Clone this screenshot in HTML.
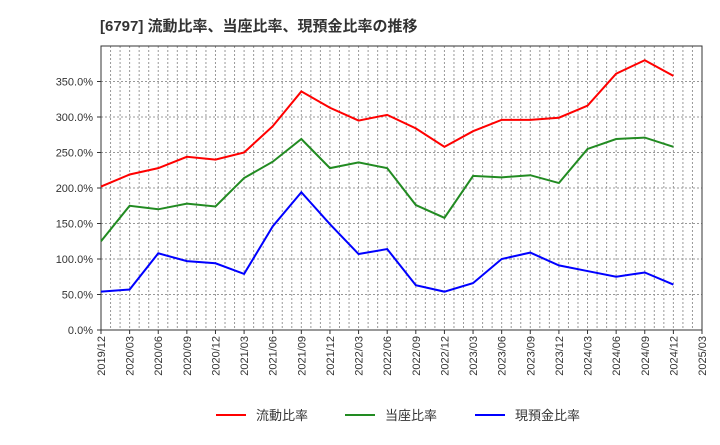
<!DOCTYPE html>
<html><head><meta charset="utf-8"><style>
body{margin:0;background:#fff;font-family:"Liberation Sans","Noto Sans CJK JP",sans-serif;}
</style></head><body>
<svg id="chart" width="720" height="440" xmlns="http://www.w3.org/2000/svg" font-family="Liberation Sans, Noto Sans CJK JP, sans-serif">
<text x="100" y="31" font-size="15" font-weight="bold" fill="#333">[6797]  流動比率、当座比率、現預金比率の推移</text>
<g id="grid"></g><g id="axes"></g><g id="series"></g>
<g>
<line x1="216" y1="415" x2="246" y2="415" stroke="#ff0000" stroke-width="2"/>
<text x="256" y="420" font-size="13" fill="#333">流動比率</text>
<line x1="345" y1="415" x2="375" y2="415" stroke="#228b22" stroke-width="2"/>
<text x="385" y="420" font-size="13" fill="#333">当座比率</text>
<line x1="475" y1="415" x2="505" y2="415" stroke="#0000ff" stroke-width="2"/>
<text x="515" y="420" font-size="13" fill="#333">現預金比率</text>
</g>
</svg>
<script>
const tickLabels=["2019/12","2020/03","2020/06","2020/09","2020/12","2021/03","2021/06","2021/09","2021/12","2022/03","2022/06","2022/09","2022/12","2023/03","2023/06","2023/09","2023/12","2024/03","2024/06","2024/09","2024/12","2025/03"];
const yTicks=[0,50,100,150,200,250,300,350];
const currentRatio=[202,219,228,244,240,250,287,336,313,295,303,284,258,280,296,296,299,316,361,380,358];
const quickRatio=[125,175,170,178,174,214,237,269,228,236,228,176,158,217,215,218,207,255,269,271,258];
const cashRatio=[54,57,108,97,94,79,146,194,149,107,114,63,54,66,100,109,91,83,75,81,64];
const L=101,R=702,T=46,B=330,YMAX=400;
const ns="http://www.w3.org/2000/svg";
const xq=i=>L+(R-L)*i/(tickLabels.length-1);
const y=v=>B-(B-T)*v/YMAX;
function mk(tag,attrs,parent){const e=document.createElementNS(ns,tag);for(const k in attrs)e.setAttribute(k,attrs[k]);parent.appendChild(e);return e;}
const grid=document.getElementById('grid'),axes=document.getElementById('axes'),series=document.getElementById('series');
const months=(tickLabels.length-1)*3;
for(let m=1;m<months;m++){const x=L+(R-L)*m/months;const g=mk('line',{x1:x,x2:x,y1:T,y2:B,stroke:'#999','stroke-width':1,'stroke-dasharray':'2,2'},grid);

}
for(let v=50;v<=YMAX;v+=50){const g=mk('line',{x1:L,x2:R,y1:y(v),y2:y(v),stroke:'#999','stroke-width':1,'stroke-dasharray':'2,2'},grid);

}
const frame=mk('rect',{x:L,y:T,width:R-L,height:B-T,fill:'none',stroke:'#333','stroke-width':1},axes);


yTicks.forEach(v=>{const t=mk('text',{x:L-8,y:y(v)+4,'text-anchor':'end','font-size':11,fill:'#333'},axes);t.textContent=v.toFixed(1)+'%';


mk('line',{x1:L-4,x2:L,y1:y(v),y2:y(v),stroke:'#333'},axes);});
tickLabels.forEach((s,i)=>{const x=xq(i);const t=mk('text',{x:0,y:0,'text-anchor':'end','font-size':11,fill:'#333',transform:`translate(${x+4},${B+6}) rotate(-90)`},axes);t.textContent=s;


mk('line',{x1:x,x2:x,y1:B,y2:B+4,stroke:'#333'},axes);});
[[currentRatio,'#ff0000','current-ratio-line'],[quickRatio,'#228b22','quick-ratio-line'],[cashRatio,'#0000ff','cash-ratio-line']].forEach(([d,c,n])=>{
const p=mk('polyline',{points:d.map((v,i)=>xq(i)+','+y(v)).join(' '),fill:'none',stroke:c,'stroke-width':2},series);

});
</script>
</body></html>
